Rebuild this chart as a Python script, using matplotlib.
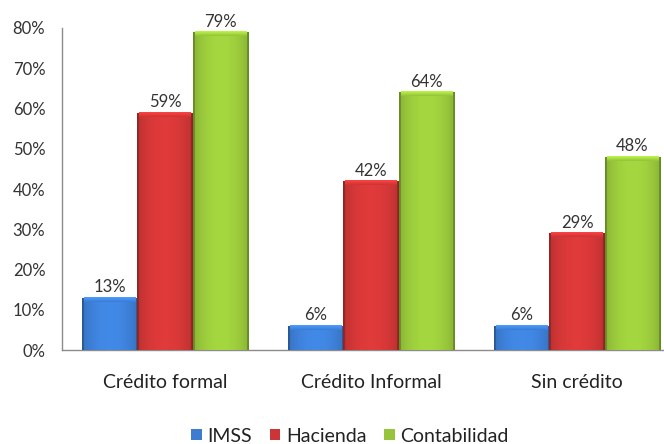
import numpy as np
import matplotlib
matplotlib.use("Agg")
import matplotlib.pyplot as plt
from matplotlib.colors import to_rgb
from matplotlib.patches import Patch

plt.rcParams['font.family'] = ['Lato', 'DejaVu Sans']

categories = ['Crédito formal', 'Crédito Informal', 'Sin crédito']
series = ['IMSS', 'Hacienda', 'Contabilidad']
imss = [13, 6, 6]
hacienda = [59, 42, 29]
contabilidad = [79, 64, 48]
yticks = [0, 10, 20, 30, 40, 50, 60, 70, 80]
colors = ['#3c7dd2', '#cc3535', '#96c43a']


def shade(color, n=60):
    # horizontal sheen: slightly dark edges, bright middle
    base = np.array(to_rgb(color))
    t = np.linspace(0, 1, n)
    f = 0.88 + 0.22 * np.sin(np.pi * t) ** 0.6
    f[:2] = 0.7
    f[-2:] = 0.7
    img = np.clip(base[None, :] * f[:, None], 0, 1)
    return img[None, :, :]


fig = plt.figure(figsize=(6.64, 4.44), dpi=100)
ax = fig.add_axes([62 / 664, 94 / 444, 602 / 664, 322 / 444])

x = np.arange(len(categories))
width = 0.268
values = [imss, hacienda, contabilidad]
for i, (name, vals, col) in enumerate(zip(series, values, colors)):
    bars = ax.bar(x + (i - 1) * width, vals, width, color=col, edgecolor='none', zorder=2)
    for b, v in zip(bars, vals):
        x0, w, h = b.get_x(), b.get_width(), b.get_height()
        im = ax.imshow(shade(col), extent=[x0, x0 + w, 0, h], aspect='auto',
                       interpolation='bilinear', zorder=3)
        im.set_clip_path(b)
        # bevel on top of the bar
        top = np.array(to_rgb(col))
        ax.imshow(np.clip(np.linspace(top * 1.25, top * 1.0, 8), 0, 1)[:, None, :].repeat(2, axis=1),
                  extent=[x0 + 0.01, x0 + w - 0.01, h - 1.0, h], aspect='auto',
                  interpolation='bilinear', zorder=4)
        ax.text(x0 + w / 2, h + 0.6, f'{v}%', ha='center', va='bottom',
                fontsize=12, color='#333333', zorder=5)

ax.set_xlim(-0.5, -0.5 + 602 / 206)
ax.set_ylim(0, 80)
ax.set_yticks(yticks)
ax.set_yticklabels([f'{t}%' for t in yticks], fontsize=12, color='#333333')
ax.set_xticks(x)
ax.set_xticklabels(categories, fontsize=14, color='#222222')
ax.tick_params(axis='both', length=0)
ax.tick_params(axis='x', pad=17)
ax.tick_params(axis='y', pad=12)
for s in ['top', 'right']:
    ax.spines[s].set_visible(False)
for s in ['left', 'bottom']:
    ax.spines[s].set_color('#8c8c8c')
    ax.spines[s].set_linewidth(1.0)

handles = [Patch(facecolor=c, edgecolor='none') for c in colors]
fig.legend(handles, series, loc='center', bbox_to_anchor=(0.527, 8 / 444), ncol=3,
           frameon=False, fontsize=14, handlelength=0.55, handleheight=0.55,
           handletextpad=0.3, columnspacing=0.9, labelcolor='#222222')

fig.savefig('out.png', dpi=100)
